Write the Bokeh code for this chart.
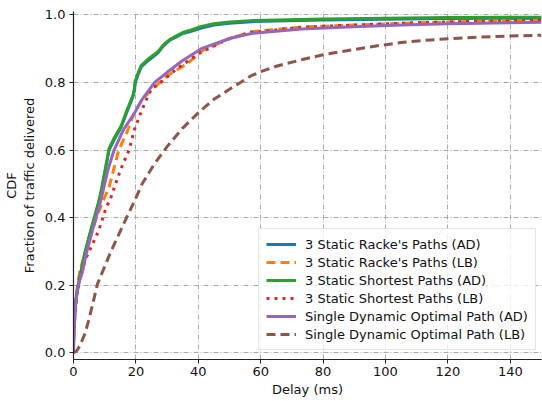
from bokeh.plotting import figure
from bokeh.models import Range1d, Legend, LegendItem, FixedTicker, PrintfTickFormatter
from bokeh.embed import file_html
from bokeh.resources import INLINE

# ---------------- data ----------------
racke_ad_x = [0, 0.4, 1, 2, 3.6, 5, 6.8, 8, 9, 10, 11.4, 13, 15.3, 17, 19, 19.5, 19.8, 21, 21.7, 24, 27, 29, 31, 33, 35, 38, 41, 45, 50, 57, 65, 80, 100, 120, 150]
racke_ad_y = [0.03, 0.12, 0.17, 0.22, 0.29, 0.34, 0.40, 0.44, 0.48, 0.53, 0.60, 0.63, 0.668, 0.71, 0.757, 0.775, 0.80, 0.83, 0.846, 0.865, 0.887, 0.91, 0.926, 0.935, 0.945, 0.952, 0.961, 0.970, 0.975, 0.980, 0.982, 0.985, 0.987, 0.989, 0.990]

racke_lb_x = [0, 0.5, 1, 2, 3.5, 5, 7, 9, 11.4, 14.5, 17, 19.5, 22, 26, 30, 36.7, 41, 50, 57, 73, 90, 105, 120, 150]
racke_lb_y = [0.05, 0.13, 0.18, 0.24, 0.29, 0.33, 0.39, 0.44, 0.49, 0.60, 0.65, 0.71, 0.75, 0.786, 0.82, 0.857, 0.893, 0.93, 0.95, 0.964, 0.970, 0.975, 0.979, 0.984]

short_ad_x = [0, 0.4, 1, 2, 3.6, 5, 6.8, 8, 9, 10, 11.4, 13, 15.3, 17, 19, 19.5, 19.8, 21, 21.7, 24, 27, 29, 31, 33, 35, 38, 41, 45, 50, 57, 65, 80, 100, 120, 150]
short_ad_y = [0.04, 0.125, 0.175, 0.225, 0.295, 0.345, 0.405, 0.445, 0.485, 0.535, 0.605, 0.635, 0.672, 0.715, 0.76, 0.78, 0.805, 0.835, 0.85, 0.87, 0.89, 0.913, 0.928, 0.938, 0.948, 0.956, 0.966, 0.974, 0.979, 0.983, 0.985, 0.988, 0.990, 0.992, 0.993]

short_lb_x = [0, 0.5, 1, 2, 4, 6, 8, 10.5, 12, 15, 17.8, 19.5, 22, 24.8, 28, 33, 41, 50, 57, 73, 90, 105, 120, 150]
short_lb_y = [0.05, 0.12, 0.17, 0.22, 0.28, 0.32, 0.36, 0.43, 0.46, 0.54, 0.60, 0.66, 0.72, 0.78, 0.80, 0.84, 0.89, 0.93, 0.948, 0.963, 0.970, 0.975, 0.979, 0.984]

single_ad_x = [0, 0.3, 0.7, 1.5, 2.9, 4, 6, 8.75, 11, 13, 16, 19.6, 22, 26, 30, 35, 41, 50, 57, 73, 90, 105, 120, 150]
single_ad_y = [0.0, 0.08, 0.15, 0.20, 0.24, 0.29, 0.36, 0.45, 0.54, 0.60, 0.66, 0.71, 0.75, 0.80, 0.83, 0.865, 0.90, 0.93, 0.945, 0.958, 0.965, 0.970, 0.974, 0.978]

single_lb_x = [0, 1, 2, 3.6, 5, 7.7, 12, 16, 19.6, 22, 26, 30, 35, 40, 45, 50, 57, 60, 65, 73, 80, 89, 97, 105, 113, 121, 135, 150]
single_lb_y = [0.0, 0.005, 0.02, 0.055, 0.10, 0.204, 0.30, 0.38, 0.45, 0.50, 0.56, 0.61, 0.665, 0.71, 0.75, 0.78, 0.82, 0.832, 0.848, 0.867, 0.882, 0.896, 0.908, 0.918, 0.925, 0.930, 0.936, 0.940]

labels = ["3 Static Racke's Paths (AD)", "3 Static Racke's Paths (LB)",
          "3 Static Shortest Paths (AD)", "3 Static Shortest Paths (LB)",
          "Single Dynamic Optimal Path (AD)", "Single Dynamic Optimal Path (LB)"]

x_ticks = [0, 20, 40, 60, 80, 100, 120, 140]
y_ticks = [0.0, 0.2, 0.4, 0.6, 0.8, 1.0]

# ---------------- figure ----------------
FONT = "DejaVu Sans"
FS = "13px"
p = figure(width=542, height=401, output_backend="svg", toolbar_location=None,
           x_range=Range1d(0, 150), y_range=Range1d(-0.02, 1.01),
           min_border_left=73, min_border_right=1, min_border_top=11, min_border_bottom=42)
p.outline_line_color = None
p.background_fill_color = "white"

series = [
    (racke_ad_x, racke_ad_y, "#1f77b4", "solid"),
    (racke_lb_x, racke_lb_y, "#ff7f0e", "9 5"),
    (short_ad_x, short_ad_y, "#2ca02c", "solid"),
    (short_lb_x, short_lb_y, "#d62728", "3 5"),
    (single_ad_x, single_ad_y, "#9467bd", "solid"),
    (single_lb_x, single_lb_y, "#8c564b", "9 5"),
]
items = []
for (xs, ys, col, dash), lab in zip(series, labels):
    r = p.line(xs, ys, line_color=col, line_width=3, line_dash=dash)
    items.append(LegendItem(label=lab, renderers=[r]))

# axes
for ax in (p.xaxis[0], p.yaxis[0]):
    ax.axis_line_color = "#222222"
    ax.axis_line_width = 1.2
    ax.major_tick_line_color = "#222222"
    ax.major_tick_out = 4
    ax.major_tick_in = 0
    ax.minor_tick_out = 0
    ax.minor_tick_in = 0
    ax.major_label_text_font = FONT
    ax.major_label_text_font_size = FS
    ax.major_label_text_color = "#111111"
    ax.axis_label_text_font = FONT
    ax.axis_label_text_font_size = FS
    ax.axis_label_text_font_style = "normal"
    ax.axis_label_text_color = "#111111"

p.xaxis.ticker = FixedTicker(ticks=x_ticks)
p.yaxis.ticker = FixedTicker(ticks=y_ticks)
p.yaxis.formatter = PrintfTickFormatter(format="%.1f")
p.xaxis.axis_label = "Delay (ms)"
p.yaxis.axis_label = "CDF\nFraction of traffic delivered"
p.xaxis.major_label_standoff = 3
p.yaxis.major_label_standoff = 4
p.xaxis.axis_label_standoff = 3
p.yaxis.axis_label_standoff = 5

# grid
for g in (p.xgrid[0], p.ygrid[0]):
    g.grid_line_color = "#a0a0a0"
    g.grid_line_width = 0.9
    g.grid_line_dash = "5 2 1 2"

# legend
legend = Legend(items=items, location=(185, 9))
legend.label_text_font = FONT
legend.label_text_font_size = FS
legend.label_text_color = "#111111"
legend.glyph_width = 30
legend.glyph_height = 16
legend.label_height = 16
legend.label_standoff = 9
legend.spacing = 2
legend.padding = 7
legend.margin = 0
legend.border_line_color = "#cccccc"
legend.border_line_width = 1
legend.background_fill_color = "white"
legend.background_fill_alpha = 0.8
p.add_layout(legend, "center")

open("out.html", "w").write(file_html(p, INLINE))
